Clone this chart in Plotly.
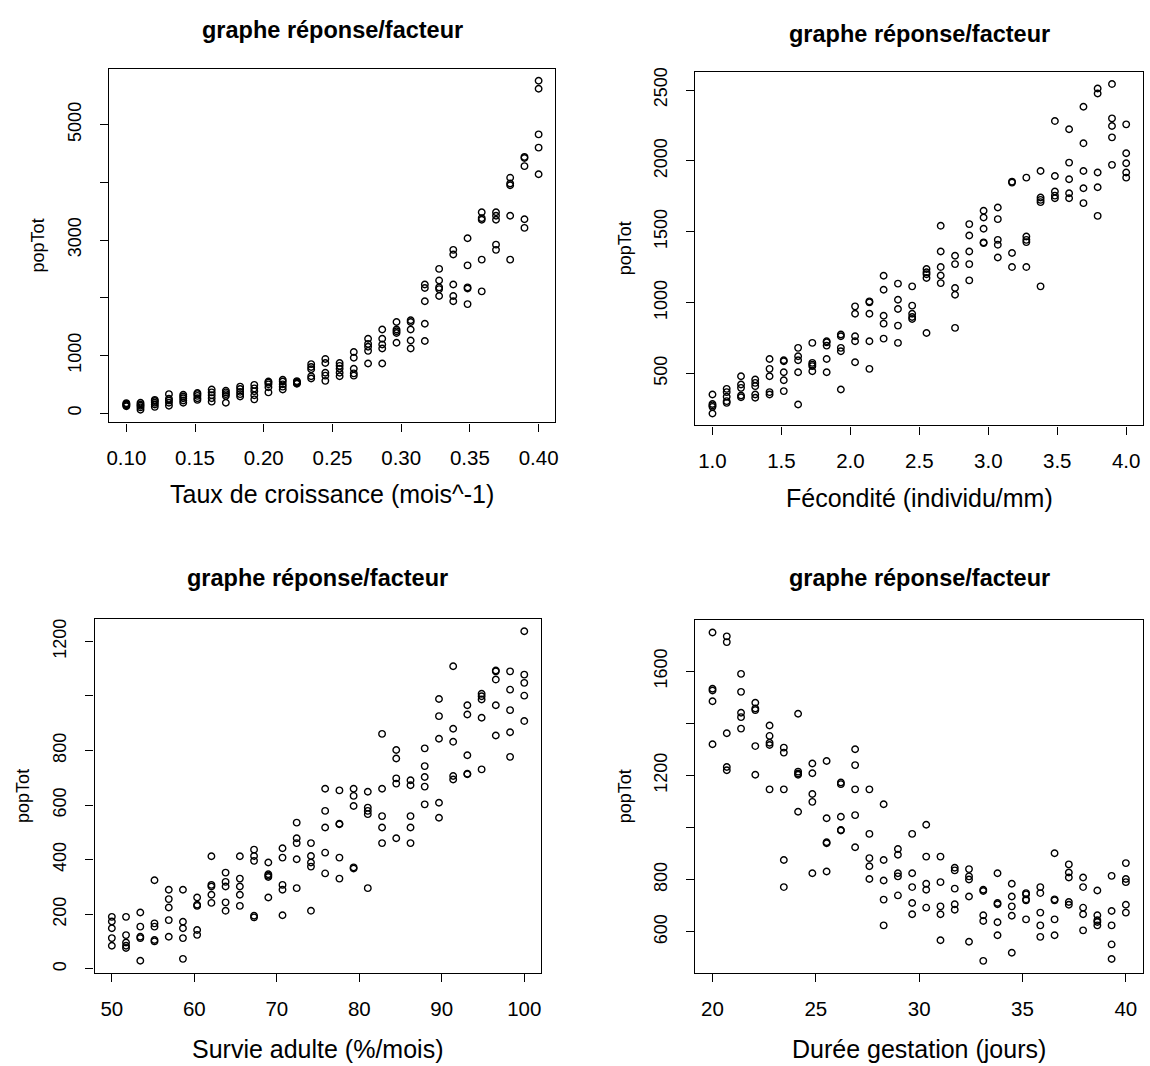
import plotly.graph_objects as go

W, H = 1150, 1066

# ---------------- data ----------------
taux_levels = [0.1000, 0.1103, 0.1207, 0.1310, 0.1414, 0.1517, 0.1621, 0.1724, 0.1828, 0.1931,
               0.2034, 0.2138, 0.2241, 0.2345, 0.2448, 0.2552, 0.2655, 0.2759, 0.2862, 0.2966,
               0.3069, 0.3172, 0.3276, 0.3379, 0.3483, 0.3586, 0.3690, 0.3793, 0.3897, 0.4000]
pop_taux = [
    [120, 135, 150, 160, 175], [60, 100, 130, 150, 180], [110, 150, 180, 210, 230],
    [130, 180, 220, 250, 330], [180, 220, 260, 290, 320], [230, 260, 300, 330, 350],
    [200, 260, 310, 360, 410], [180, 300, 330, 360, 390], [290, 330, 370, 420, 460],
    [240, 310, 380, 430, 490], [360, 450, 500, 530, 550], [410, 460, 500, 550, 580],
    [510, 520, 530, 540, 555], [600, 640, 760, 800, 850], [560, 650, 700, 870, 940],
    [640, 700, 770, 820, 870], [650, 690, 770, 960, 1060], [860, 1080, 1150, 1200, 1290],
    [860, 1120, 1190, 1290, 1450], [1220, 1390, 1420, 1450, 1580], [1120, 1260, 1450, 1580, 1610],
    [1250, 1550, 1940, 2170, 2230], [2030, 2150, 2180, 2300, 2500], [1940, 2030, 2230, 2750, 2830],
    [1890, 2160, 2180, 2560, 3030], [2110, 2660, 3350, 3380, 3480], [2830, 2920, 3350, 3420, 3480],
    [2660, 3420, 3950, 3980, 4080], [3210, 3360, 4280, 4420, 4440], [4140, 4600, 4830, 5620, 5760],
]

fec_levels = [1.000, 1.103, 1.207, 1.310, 1.414, 1.517, 1.621, 1.724, 1.828, 1.931,
              2.034, 2.138, 2.241, 2.345, 2.448, 2.552, 2.655, 2.759, 2.862, 2.966,
              3.069, 3.172, 3.276, 3.379, 3.483, 3.586, 3.690, 3.793, 3.897, 4.000]
pop_fec = [
    [218, 265, 275, 285, 352], [293, 305, 336, 369, 392], [333, 345, 399, 423, 481],
    [329, 352, 411, 434, 458], [352, 369, 481, 533, 603], [376, 453, 509, 587, 594],
    [282, 509, 594, 622, 681], [516, 552, 563, 575, 716], [509, 603, 697, 720, 728],
    [387, 657, 681, 763, 775], [580, 728, 763, 922, 974], [533, 728, 922, 1002, 1009],
    [746, 852, 908, 1091, 1190], [716, 838, 955, 1021, 1134], [885, 899, 922, 979, 1115],
    [786, 1174, 1200, 1214, 1237], [1138, 1192, 1251, 1361, 1542], [822, 1056, 1103, 1272, 1331],
    [1157, 1272, 1361, 1474, 1554], [1420, 1425, 1521, 1601, 1648], [1319, 1408, 1443, 1589, 1671],
    [1251, 1350, 1847, 1854], [1251, 1427, 1443, 1467, 1882], [1115, 1709, 1725, 1742, 1929],
    [1737, 1755, 1784, 1894, 2281], [1737, 1772, 1871, 1988, 2223], [1702, 1807, 1929, 2124, 2382],
    [1612, 1814, 1918, 2476, 2511], [1972, 2166, 2246, 2300, 2542], [1882, 1918, 1983, 2054, 2258],
]

surv_levels = [50.00, 51.72, 53.45, 55.17, 56.90, 58.62, 60.34, 62.07, 63.79, 65.52,
               67.24, 68.97, 70.69, 72.41, 74.14, 75.86, 77.59, 79.31, 81.03, 82.76,
               84.48, 86.21, 87.93, 89.66, 91.38, 93.10, 94.83, 96.55, 98.28, 100.00]
pop_surv = [
    [85, 113, 149, 174, 191], [77, 85, 97, 124, 191], [30, 113, 118, 155, 207],
    [101, 106, 155, 167, 325], [118, 179, 225, 256, 290], [37, 113, 149, 173, 290],
    [125, 143, 231, 235, 262], [242, 272, 302, 308, 413], [213, 244, 302, 319, 353],
    [231, 272, 302, 331, 413], [189, 195, 396, 414, 437], [262, 337, 342, 347, 390],
    [197, 290, 308, 408, 442], [296, 402, 461, 479, 536], [213, 375, 390, 414, 461],
    [350, 426, 518, 579, 660], [331, 408, 530, 532, 654], [368, 372, 597, 634, 660],
    [296, 567, 579, 591, 649], [461, 518, 560, 660, 861], [479, 679, 698, 771, 802],
    [461, 518, 560, 673, 691], [603, 668, 703, 743, 808], [554, 609, 843, 926, 989],
    [694, 707, 832, 880, 1109], [713, 715, 783, 932, 966], [731, 920, 987, 999, 1008],
    [855, 966, 1060, 1090, 1093], [777, 867, 948, 1023, 1090], [908, 1001, 1048, 1078, 1237],
]

gest_levels = [20.00, 20.69, 21.38, 22.07, 22.76, 23.45, 24.14, 24.83, 25.52, 26.21,
               26.90, 27.59, 28.28, 28.97, 29.66, 30.34, 31.03, 31.72, 32.41, 33.10,
               33.79, 34.48, 35.17, 35.86, 36.55, 37.24, 37.93, 38.62, 39.31, 40.00]
pop_gest = [
    [1320, 1485, 1526, 1533, 1749], [1220, 1233, 1362, 1712, 1734], [1380, 1424, 1441, 1521, 1590],
    [1203, 1313, 1451, 1457, 1479], [1147, 1317, 1326, 1352, 1392], [772, 876, 1147, 1288, 1307],
    [1061, 1203, 1208, 1215, 1437], [825, 1099, 1129, 1209, 1246], [832, 940, 944, 1036, 1256],
    [989, 991, 1042, 1167, 1173], [925, 1048, 1147, 1240, 1301], [803, 852, 883, 976, 1147],
    [625, 724, 797, 876, 1090], [740, 813, 825, 896, 918], [668, 711, 772, 825, 976],
    [693, 762, 785, 889, 1011], [568, 668, 698, 791, 889], [685, 706, 766, 836, 846],
    [562, 736, 801, 813, 841], [489, 642, 664, 757, 762], [587, 637, 706, 711, 825],
    [520, 662, 698, 736, 785], [648, 721, 725, 744, 749], [581, 625, 674, 749, 772],
    [587, 648, 721, 725, 902], [704, 715, 809, 828, 859], [606, 668, 693, 772, 809],
    [625, 638, 645, 664, 759], [496, 552, 625, 680, 815], [674, 704, 791, 803, 864],
]

title_text = "graphe réponse/facteur"
y_title = "popTot"
x_titles = ["Taux de croissance (mois^-1)", "Fécondité (individu/mm)",
            "Survie adulte (%/mois)", "Durée gestation (jours)"]

x_ticks = [[0.10, 0.15, 0.20, 0.25, 0.30, 0.35, 0.40],
           [1.0, 1.5, 2.0, 2.5, 3.0, 3.5, 4.0],
           [50, 60, 70, 80, 90, 100],
           [20, 25, 30, 35, 40]]
x_ticktext = [["0.10", "0.15", "0.20", "0.25", "0.30", "0.35", "0.40"],
              ["1.0", "1.5", "2.0", "2.5", "3.0", "3.5", "4.0"],
              ["50", "60", "70", "80", "90", "100"],
              ["20", "25", "30", "35", "40"]]
y_ticks = [[0, 1000, 2000, 3000, 4000, 5000],
           [500, 1000, 1500, 2000, 2500],
           [0, 200, 400, 600, 800, 1000, 1200],
           [600, 800, 1000, 1200, 1400, 1600]]
y_ticktext = [["0", "1000", "", "3000", "", "5000"],
              ["500", "1000", "1500", "2000", "2500"],
              ["0", "200", "400", "600", "800", "", "1200"],
              ["600", "800", "", "1200", "", "1600"]]

# ---------------- layout geometry (pixels) ----------------
boxes = [(107, 555, 65, 420), (696, 1146, 68, 423), (92, 541, 617, 973), (696, 1146, 618, 973)]
x_ranges = [[0.0877, 0.412], [0.876, 4.122], [47.9, 102.05], [19.17, 40.83]]
y_ranges = [[-160, 5967], [134, 2629], [-16, 1283], [441, 1798]]
title_y = [26, 30, 576, 576]
xtitle_y = [492, 496, 1049, 1049]
ytitle_x = [35, 625, 20, 625]

FONT = "Liberation Sans, Arial, Helvetica, sans-serif"

fig = go.Figure()
panels = [(taux_levels, pop_taux), (fec_levels, pop_fec), (surv_levels, pop_surv), (gest_levels, pop_gest)]
for i, (lev, vals) in enumerate(panels):
    xs = [lev[k] for k in range(len(lev)) for _ in vals[k]]
    ys = [v for k in range(len(lev)) for v in vals[k]]
    sfx = "" if i == 0 else str(i + 1)
    fig.add_trace(go.Scatter(
        x=xs, y=ys, mode="markers", xaxis="x" + sfx, yaxis="y" + sfx,
        marker=dict(symbol="circle-open", size=6.5, color="black", line=dict(width=1.4, color="black")),
        showlegend=False, hoverinfo="x+y"))

annotations = []
for i, (l, r, t, b) in enumerate(boxes):
    sfx = "" if i == 0 else str(i + 1)
    common = dict(showline=True, linecolor="black", linewidth=1.3, mirror=True,
                  ticks="outside", ticklen=8, tickwidth=1.3, tickcolor="black",
                  showgrid=False, zeroline=False)
    fig.update_layout(**{
        "xaxis" + sfx: dict(domain=[l / W, r / W], range=x_ranges[i], anchor="y" + sfx,
                            tickmode="array", tickvals=x_ticks[i], ticktext=x_ticktext[i],
                            ticklabelstandoff=9,
                            tickfont=dict(family=FONT, size=20.5, color="black"), **common),
        "yaxis" + sfx: dict(domain=[1 - b / H, 1 - t / H], range=y_ranges[i], anchor="x" + sfx,
                            tickmode="array", tickvals=y_ticks[i], ticktext=y_ticktext[i],
                            tickangle=-90, ticklabelstandoff=12,
                            tickfont=dict(family=FONT, size=18, color="black"), **common),
    })
    cx = (l + r) / 2
    annotations.append(dict(text="<b>" + title_text + "</b>", x=cx / W, y=1 - title_y[i] / H,
                            xref="paper", yref="paper", showarrow=False,
                            font=dict(family=FONT, size=23.5, color="black"),
                            xanchor="center", yanchor="middle"))
    annotations.append(dict(text=x_titles[i], x=cx / W, y=1 - xtitle_y[i] / H,
                            xref="paper", yref="paper", showarrow=False,
                            font=dict(family=FONT, size=25, color="black"),
                            xanchor="center", yanchor="middle"))
    annotations.append(dict(text=y_title, x=ytitle_x[i] / W, y=1 - ((t + b) / 2) / H,
                            xref="paper", yref="paper", showarrow=False, textangle=-90,
                            font=dict(family=FONT, size=18, color="black"),
                            xanchor="center", yanchor="middle"))

fig.update_layout(width=W, height=H, margin=dict(l=0, r=0, t=0, b=0),
                  paper_bgcolor="white", plot_bgcolor="white",
                  annotations=annotations, showlegend=False)

fig.write_html("out.html")
